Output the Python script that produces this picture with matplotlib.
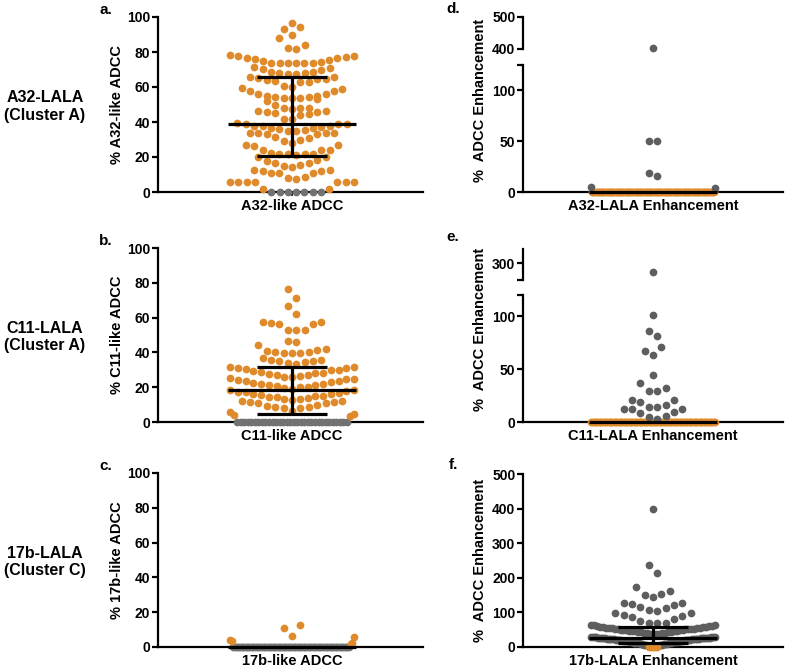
import numpy as np
import matplotlib
matplotlib.use('Agg')
import matplotlib.pyplot as plt

plt.rcParams['font.family'] = ['Liberation Sans', 'DejaVu Sans']
plt.rcParams['font.weight'] = 'bold'

ORANGE = '#E08B2B'
GRAY = '#727272'
DGRAY = '#5E5E5E'

# ---- data ----
# a. A32-like ADCC
a_gray = [0.0] * 7
a_orange = [1.5, 2, 5.5, 5.6, 5.7, 5.8, 5.8, 5.9, 5.9,
            7.4, 7.8, 8.7, 10.7, 10.7, 10.7, 11.9, 11.9, 12.6, 12.6,
            14.5, 15, 15.5, 16.4, 16.4, 18, 18.2, 20, 20.2,
            21, 21.5, 21.7, 21.7, 21.7, 22.5, 23.8, 24, 24, 26.4, 26.8, 26.9,
            27.8, 29, 30, 31, 31.6, 33.5, 33.5, 33.4, 33.5, 33.3, 33.5,
            34.6, 34.9, 35.5, 36, 36.4, 36.4, 37, 37.6, 37.6, 38, 39, 39, 39, 39.5,
            41.5, 42, 44, 44.5, 45, 45.5, 46, 46.5, 46.5,
            47.5, 48, 48, 48, 50, 52, 53,
            54, 54, 54, 54.5, 54.5, 55, 55, 56, 56, 58, 58, 59, 59.5,
            60, 60.5, 63, 63, 63.5, 64, 64.5, 64.5, 65, 65.5, 65.8,
            67.5, 67.5, 68, 68, 68.5, 68.5, 70, 70.5, 71, 71.5,
            73.6, 73.6, 73.7, 73.8, 74, 74, 74.5, 75, 75.5, 76, 76.5, 76.5, 77, 78, 78, 78.5,
            82, 82.5, 84, 87.8, 90, 93, 94.5, 96.7]
a_stats = (39, 20.3, 66)  # median, lower, upper

# b. C11-like ADCC
b_gray = [0.0] * 32
b_orange = [3.5, 4.2, 4.6,
            6.0, 6.2, 7.9, 8.0, 8.4, 8.7, 9.2, 9.5, 10.7, 11.0, 11.3, 11.5, 11.8, 11.9,
            12.6, 13.0, 13.4, 13.8, 14.1, 14.5, 15.0, 15.2, 15.6, 16.0, 16.3, 16.8, 17.2, 17.5, 18.0, 18.4, 18.5,
            19.2, 19.6, 20.0, 20.2, 20.7, 21.0, 21.3, 21.8, 22.1, 22.6, 23.0, 23.5, 23.8, 24.2, 24.5, 25.0, 25.2,
            25.8, 26.1, 26.5, 26.9, 27.2, 27.6, 28.0, 28.3, 28.8, 29.1, 29.6, 30.0, 30.4, 30.9, 31.2, 31.5, 31.8,
            33.1, 33.9, 34.3, 34.9, 34.9, 35.4, 35.8, 36.8,
            39.6, 39.7, 39.7, 40.0, 40.2, 40.6, 41.6, 42.0, 44.4,
            46.1, 46.7,
            52.6, 52.8, 53.0, 56.3, 56.3, 57.0, 57.5, 57.6,
            62.0, 66.5, 71.0, 76.5]
b_stats = (18.4, 4.5, 31.5)

# c. 17b-like ADCC
c_gray = [0.0] * 70
c_orange = [1.5, 2.5, 3.2, 4.2, 5.9, 6.5, 11.0, 12.5]
c_stats = (0, 0, 0)

# d. A32-LALA Enhancement
d_orange = [0.0] * 110
d_gray = [4.3, 4.5, 15.7, 19.0, 50.0, 50.5, 403]
d_stats = (0, 0, 0)

# e. C11-LALA Enhancement
e_orange = [0.0] * 100
e_gray = [3.0, 4.7, 5.6, 8.4, 9.4, 12.0, 12.0, 12.5, 14.0, 14.5, 16.0, 18.5, 20.5, 21.0,
          29.0, 29.5, 32.0, 36.5, 44.0, 63.0, 67.0, 71.0, 81.5, 86.0, 101.0, 279]
e_stats = (0, 0, 0)

# f. 17b-LALA Enhancement
f_orange = [0.0] * 5
f_gray = [2.5, 3.8, 4.6, 5.2, 6.1, 6.9, 7.4, 8.0, 8.8, 9.3, 9.9, 10.4, 10.8, 11.5, 11.9,
          12.4, 12.8, 13.3, 13.9, 14.2, 14.8, 15.1, 15.7, 16.0, 16.6, 16.9, 17.3, 17.8,
          18.2, 18.5, 18.9, 19.4, 19.7, 20.1, 20.4, 20.8, 21.1, 21.5, 21.8, 22.0, 22.4,
          22.7, 23.0, 23.3, 23.6, 23.9, 24.2, 24.4, 24.7, 25.0, 25.2, 25.5, 25.7, 26.0,
          26.2, 26.5, 26.7, 27.0, 27.2, 27.5, 27.7, 28.0, 28.3, 28.6, 29.0, 29.4,
          35.5, 36.8, 37.9, 38.6, 39.4, 40.1, 40.9, 41.6, 42.2, 42.9, 43.5, 44.2, 44.8,
          45.3, 46.0, 46.6, 47.1, 47.8, 48.3, 48.9, 49.5, 50.0, 50.6, 51.1, 51.8, 52.3,
          52.9, 53.4, 54.0, 54.6, 55.1, 55.7, 56.2, 56.9, 57.5, 58.1, 58.8, 59.4, 60.1, 60.8,
          63.0, 63.6, 63.6, 68.5, 70, 70, 75, 81, 86, 90.5, 92,
          98, 98, 105, 108, 112, 114.7, 121, 124, 128, 128,
          143.6, 150, 153, 162.7, 172.5, 213, 237, 400]
f_stats = (25, 10.7, 57)

row_labels = ['A32-LALA\n(Cluster A)', 'C11-LALA\n(Cluster A)', '17b-LALA\n(Cluster C)']
left_xlabels = ['A32-like ADCC', 'C11-like ADCC', '17b-like ADCC']
left_ylabels = ['% A32-like ADCC', '% C11-like ADCC', '% 17b-like ADCC']
right_xlabels = ['A32-LALA Enhancement', 'C11-LALA Enhancement', '17b-LALA Enhancement']
right_ylabel = '%  ADCC Enhancement'

W, H = 790, 672
fig = plt.figure(figsize=(W / 100, H / 100), dpi=100)
DOT = 31


def box(l, t, r, b):
    return [l / W, 1 - b / H, (r - l) / W, (b - t) / H]


def swarm(ax, vals, row_px=10.5, gap=8.4, half=62):
    vals = np.asarray(vals, float)
    xs = np.zeros(len(vals))
    if len(vals) == 0:
        return xs
    y0, y1 = ax.get_ylim()
    h = row_px * (y1 - y0) / ax.bbox.height
    order = np.argsort(vals, kind='stable')
    i = 0
    while i < len(order):
        start = vals[order[i]]
        j = i
        while j < len(order) and vals[order[j]] < start + h:
            j += 1
        idx = order[i:j]
        n = len(idx)
        step = gap if n < 2 else min(gap, 2 * half / (n - 1))
        pos = (np.arange(n) - (n - 1) / 2) * step
        lvl = np.round(np.abs(pos) / step).astype(int)
        rank = sorted(range(n), key=lambda k: (abs(pos[k]), pos[k] if lvl[k] % 2 else -pos[k]))
        for r, k in enumerate(rank):
            xs[idx[r]] = pos[k]
        i = j
    return xs


def style(ax, cx, yticks, ylabels, bottom=True):
    ax.set_xlim(-cx, ax.bbox.width - cx)
    for s in ['top', 'right']:
        ax.spines[s].set_visible(False)
    for s in ['left', 'bottom']:
        ax.spines[s].set_linewidth(1.6)
    ax.set_yticks(yticks)
    ax.set_yticklabels(ylabels)
    ax.tick_params(axis='y', length=4, width=1.6, labelsize=10, pad=1.5)
    if not bottom:
        ax.spines['bottom'].set_visible(False)
        ax.set_xticks([])


def place(ax, groups, together=True):
    y0, y1 = ax.get_ylim()
    sel = [(np.array([v for v in vals if y0 <= v <= y1], float), c) for vals, c in groups]
    if together:
        xs = swarm(ax, np.concatenate([s for s, _ in sel]))
        k = 0
        for s, c in sel:
            ax.scatter(xs[k:k + len(s)], s, s=DOT, color=c, lw=0, zorder=3, clip_on=False)
            k += len(s)
    else:
        for s, c in sel:
            ax.scatter(swarm(ax, s), s, s=DOT, color=c, lw=0, zorder=3, clip_on=False)


def summary(ax, stats):
    med, lo, hi = stats
    kw = dict(color='black', lw=2.3, zorder=4, solid_capstyle='butt', clip_on=False)
    ax.plot([-64, 64], [med, med], **kw)
    if hi > lo:
        ax.plot([0, 0], [lo, hi], **kw)
        ax.plot([-35, 35], [lo, lo], **kw)
        ax.plot([-35, 35], [hi, hi], **kw)


def xlabel(ax, text):
    ax.set_xticks([0])
    ax.set_xticklabels([text])
    ax.tick_params(axis='x', length=3, width=1.2, labelsize=10.5, pad=2)


# ---- left column ----
left_data = [(a_gray, a_orange, a_stats), (b_gray, b_orange, b_stats), (c_gray, c_orange, c_stats)]
left_boxes = [(17, 192), (248, 422), (473, 647)]
for i, ((g, o, st), (t, b)) in enumerate(zip(left_data, left_boxes)):
    ax = fig.add_axes(box(158, t, 423, b))
    ax.set_ylim(0, 100)
    style(ax, 134, [0, 20, 40, 60, 80, 100], ['0', '20', '40', '60', '80', '100'])
    place(ax, [(g, GRAY), (o, ORANGE)])
    summary(ax, st)
    xlabel(ax, left_xlabels[i])
    fig.text(117 / W, 1 - (t + b) / 2 / H, left_ylabels[i], rotation=90,
             ha='center', va='center', fontsize=10.5)
    fig.text(45 / W, 1 - ((t + b) / 2 + 2) / H, row_labels[i], ha='center', va='center',
             fontsize=11.5, linespacing=1.2)
    fig.text(106 / W, 1 - (t - 7) / H, 'abc'[i] + '.', ha='center', va='center', fontsize=11)

# ---- d: broken axis ----
ax = fig.add_axes(box(523, 65, 783, 192))
ax.set_ylim(0, 125)
style(ax, 130, [0, 50, 100, 125], ['0', '50', '100', ''])
place(ax, [(d_orange, ORANGE), (d_gray, DGRAY)])
summary(ax, d_stats)
xlabel(ax, right_xlabels[0])
axu = fig.add_axes(box(523, 17, 783, 49))
axu.set_ylim(400, 500)
style(axu, 130, [400, 500], ['400', '500'], bottom=False)
place(axu, [(d_orange, ORANGE), (d_gray, DGRAY)])

# ---- e: broken axis ----
ax = fig.add_axes(box(523, 295, 783, 422))
ax.set_ylim(0, 120)
style(ax, 130, [0, 50, 100, 120], ['0', '50', '100', ''])
place(ax, [(e_orange, ORANGE), (e_gray, DGRAY)], together=False)
summary(ax, e_stats)
xlabel(ax, right_xlabels[1])
axu = fig.add_axes(box(523, 249, 783, 280))
axu.set_ylim(260, 333)
style(axu, 130, [260, 300], ['', '300'], bottom=False)
place(axu, [(e_orange, ORANGE), (e_gray, DGRAY)], together=False)

# ---- f ----
ax = fig.add_axes(box(523, 474, 783, 647))
ax.set_ylim(0, 500)
style(ax, 130, [0, 100, 200, 300, 400, 500], ['0', '100', '200', '300', '400', '500'])
xs = swarm(ax, np.array(f_orange + f_gray))
ax.scatter(xs[len(f_orange):], f_gray, s=DOT, color=DGRAY, lw=0, zorder=3, clip_on=False)
ax.scatter(xs[:len(f_orange)], f_orange, s=DOT, color=ORANGE, lw=0, zorder=3.5, clip_on=False)
summary(ax, f_stats)
xlabel(ax, right_xlabels[2])

for cy in [100, 329, 560]:
    fig.text(480 / W, 1 - cy / H, right_ylabel, rotation=90, ha='center', va='center', fontsize=10.5)
for ty, letter in zip([9, 237, 465], 'def'):
    fig.text(453 / W, 1 - ty / H, letter + '.', ha='center', va='center', fontsize=11)

fig.savefig('out.png', dpi=100)
